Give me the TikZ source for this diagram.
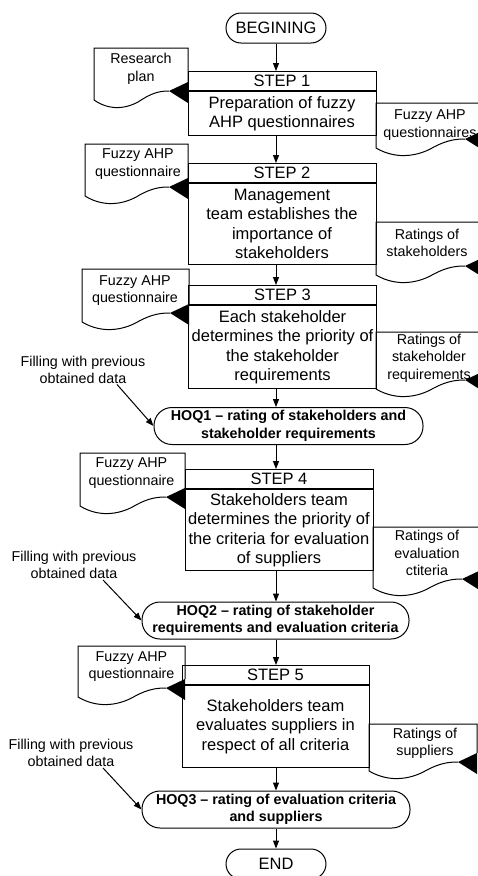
\documentclass[tikz,border=0pt]{standalone}
\usepackage{fontspec}
\setmainfont{Liberation Sans}
\usepackage{tikz}
\usetikzlibrary{arrows.meta}
\tikzset{>={Triangle[length=8pt,width=6pt]}}
\tikzset{
  stephead/.style={draw, line width=1pt, minimum width=188pt, minimum height=19pt, inner sep=2pt, font=\fontsize{16.5}{19.5}\selectfont},
  stepbody/.style={draw, line width=1pt, minimum width=188pt, inner sep=2pt, align=center, font=\fontsize{16.5}{19.5}\selectfont},
  term/.style={draw, line width=1pt, rounded corners=15pt, minimum width=100pt, minimum height=30pt, inner sep=2pt, font=\fontsize{16.5}{19.5}\selectfont},
  hoq/.style={draw, line width=1pt, rounded corners=18pt, minimum height=37pt, inner sep=2pt, align=center, font=\fontsize{14.3}{17.5}\selectfont\bfseries},
  doctext/.style={align=center, inner sep=1pt, font=\fontsize{14.3}{17.5}\selectfont},
  filltext/.style={align=center, inner sep=1pt, font=\fontsize{14.3}{17}\selectfont},
  flow/.style={->, line width=1pt},
  pics/docshape/.style 2 args={code={
    \draw[line width=1pt] (#1,#2-9) -- (#1,0) -- (0,0) -- (0,#2+9)
      .. controls ({0.25*(#1-19)},#2+22) and ({0.5*(#1-19)},#2+16) .. ({0.65*(#1-19)},#2+8)
      .. controls ({0.8*(#1-19)},#2+1) and ({0.9*(#1-19)},#2) .. (#1-19,#2);
    \fill (#1-19,#2) -- (#1,#2-9) -- (#1,#2+12) -- cycle;
  }}
}

\begin{document}
\begin{tikzpicture}[x=1pt, y=-1pt]
        \useasboundingbox (0,0) rectangle (478,876);
        \clip (0,0) rectangle (478,876);
        \fill[white] (0,0) rectangle (478,876);

        \node[term] (begin) at (276,28) {BEGINING};
        \node[stephead, anchor=north] (s1t) at (282,71) {STEP 1};
        \node[stepbody, anchor=north, minimum height=44pt] (s1) at (s1t.south) {Preparation of fuzzy\\AHP questionnaires};
        \node[stephead, anchor=north] (s2t) at (282,163) {STEP 2};
        \node[stepbody, anchor=north, minimum height=81pt] (s2) at (s2t.south) {Management\\team establishes the\\importance of\\stakeholders};
        \node[stephead, anchor=north] (s3t) at (282.5,285) {STEP 3};
        \node[stepbody, anchor=north, minimum height=83pt] (s3) at (s3t.south) {Each stakeholder\\determines the priority of\\the stakeholder\\requirements};
        \node[hoq, minimum width=269pt] (hoq1) at (288.5,426) {HOQ1 -- rating of stakeholders and\\stakeholder requirements};
        \node[stephead, anchor=north] (s4t) at (279,469) {STEP 4};
        \node[stepbody, anchor=north, minimum height=81pt] (s4) at (s4t.south) {Stakeholders team\\determines the priority of\\the criteria for evaluation\\of suppliers};
        \node[hoq, minimum width=267pt] (hoq2) at (275.5,620.5) {HOQ2 -- rating of stakeholder\\requirements and evaluation criteria};
        \node[stephead, anchor=north, minimum width=187pt] (s5t) at (275.5,665) {STEP 5};
        \node[stepbody, anchor=north, minimum width=187pt, minimum height=82pt] (s5) at (s5t.south) {Stakeholders team\\evaluates suppliers in\\respect of all criteria};
        \node[hoq, minimum width=268pt] (hoq3) at (276,809.5) {HOQ3 -- rating of evaluation criteria\\and suppliers};
        \node[term] (end) at (276,864) {END};

        \pic at (94,48) {docshape={94}{43}};
        \node[doctext] (plan) at (141,69) {Research\\plan};
        \pic at (376,103) {docshape={108}{36}};
        \node[doctext] (ahp1) at (430,125) {Fuzzy AHP\\questionnaires};
        \pic at (85,144) {docshape={103}{43}};
        \node[doctext] (ahp2) at (138,164) {Fuzzy AHP\\questionnaire};
        \pic at (376,222) {docshape={108}{44}};
        \node[doctext] (rate2) at (427,243) {Ratings of\\stakeholders};
        \pic at (82,269) {docshape={107}{44}};
        \node[doctext] (ahp3) at (135,290.5) {Fuzzy AHP\\questionnaire};
        \pic at (376,332) {docshape={108}{48}};
        \node[doctext] (rate3) at (429,358) {Ratings of\\stakeholder\\requirements};
        \pic at (80,453) {docshape={105}{44}};
        \node[doctext] (ahp4) at (131.5,473) {Fuzzy AHP\\questionnaire};
        \pic at (373,527) {docshape={108}{52}};
        \node[doctext] (rate4) at (427,553) {Ratings of\\evaluation\\ctiteria};
        \pic at (78,646) {docshape={107}{42}};
        \node[doctext] (ahp5) at (131.5,666.5) {Fuzzy AHP\\questionnaire};
        \pic at (369,724) {docshape={108}{38}};
        \node[doctext] (rate5) at (425,743.5) {Ratings of\\suppliers};

        \node[filltext] (fill1) at (83,369.5) {Filling with previous\\obtained data};
        \node[filltext] (fill2) at (74,565) {Filling with previous\\obtained data};
        \node[filltext] (fill3) at (71,753) {Filling with previous\\obtained data};

        \draw[flow] (begin.south) -- (s1t.north -| begin);
        \draw[flow] (s1.south -| begin) -- (s2t.north -| begin);
        \draw[flow] (s2.south -| begin) -- (s3t.north -| begin);
        \draw[flow] (s3.south -| begin) -- (hoq1.north -| begin);
        \draw[flow] (hoq1.south -| begin) -- (s4t.north -| begin);
        \draw[flow] (s4.south -| begin) -- (hoq2.north -| begin);
        \draw[flow] (hoq2.south -| begin) -- (s5t.north -| begin);
        \draw[flow] (s5.south -| begin) -- (hoq3.north -| begin);
        \draw[flow] (hoq3.south -| begin) -- (end.north);
        \draw[flow] ([xshift=34pt]fill1.south) -- (hoq1.west);
        \draw[flow] ([xshift=29pt]fill2.south) -- (hoq2.west);
        \draw[flow] ([xshift=32pt]fill3.south) -- (hoq3.west);
      \end{tikzpicture}
\end{document}
